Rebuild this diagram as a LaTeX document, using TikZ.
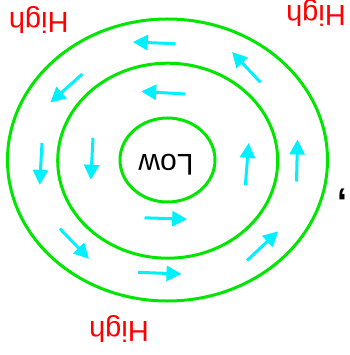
\documentclass[tikz,border=0pt]{standalone}
\usepackage{fontspec}
\setmainfont{Liberation Sans}
\usetikzlibrary{arrows.meta}
\definecolor{ringgreen}{RGB}{0,230,0}
\definecolor{flowcyan}{RGB}{0,240,255}
\definecolor{highred}{RGB}{255,0,0}
\tikzset{
  ring/.style={draw=ringgreen, line width=3pt},
  flow/.style={draw=flowcyan, line width=3pt, -{Triangle[length=15pt,width=15pt]}},
  hightext/.style={text=highred, font=\fontsize{29}{29}\selectfont, rotate=180, anchor=base, inner sep=0pt},
  lowtext/.style={text=black, font=\fontsize{30}{30}\selectfont, rotate=180, anchor=base, inner sep=0pt}
}
\begin{document}
\begin{tikzpicture}[x=1pt,y=-1pt]
\useasboundingbox (0,0) rectangle (349,355);
% rings
\draw[ring] (167.5,160) ellipse [x radius=160, y radius=141];
\draw[ring] (167.7,160.7) ellipse [x radius=110, y radius=97.5];
\draw[ring] (167.5,160) ellipse [x radius=47.5, y radius=42];
% labels
\node[lowtext] (low) at (166,155) {Low};
\node[hightext] (hightl) at (38.7,13) {High};
\node[hightext] (hightr) at (316,6) {High};
\node[hightext] (highb) at (119,321) {High};
\node[lowtext, font=\fontsize{36}{36}\selectfont\bfseries] (comma) at (342,194) {,};
% outer ring arrows
\coordinate (a1s) at (174.8,43.7); \coordinate (a1e) at (132.8,42);
\coordinate (a2s) at (260.5,82.4); \coordinate (a2e) at (232,52);
\coordinate (a3s) at (82.4,74);    \coordinate (a3e) at (50.4,102.5);
\coordinate (a4s) at (42,142.9);   \coordinate (a4e) at (39.7,184.9);
\coordinate (a5s) at (296.5,181.5);\coordinate (a5e) at (297.5,139.5);
\coordinate (a6s) at (59.8,228.6); \coordinate (a6e) at (89,258.8);
\coordinate (a7s) at (137.8,272.3);\coordinate (a7e) at (181.5,274);
\coordinate (a8s) at (247,260.5);  \coordinate (a8e) at (278.3,231.3);
% middle ring arrows
\coordinate (b1s) at (184.9,94);   \coordinate (b1e) at (141.2,91.4);
\coordinate (b2s) at (93,137.8);   \coordinate (b2e) at (90.8,179.8);
\coordinate (b3s) at (245.4,184.9);\coordinate (b3e) at (248.7,142.9);
\coordinate (b4s) at (144.5,217.8);\coordinate (b4e) at (187.2,219.2);
\foreach \p in {a1,a2,a3,a4,a5,a6,a7,a8,b1,b2,b3,b4}
  \draw[flow] (\p s) -- (\p e);
\end{tikzpicture}
\end{document}
